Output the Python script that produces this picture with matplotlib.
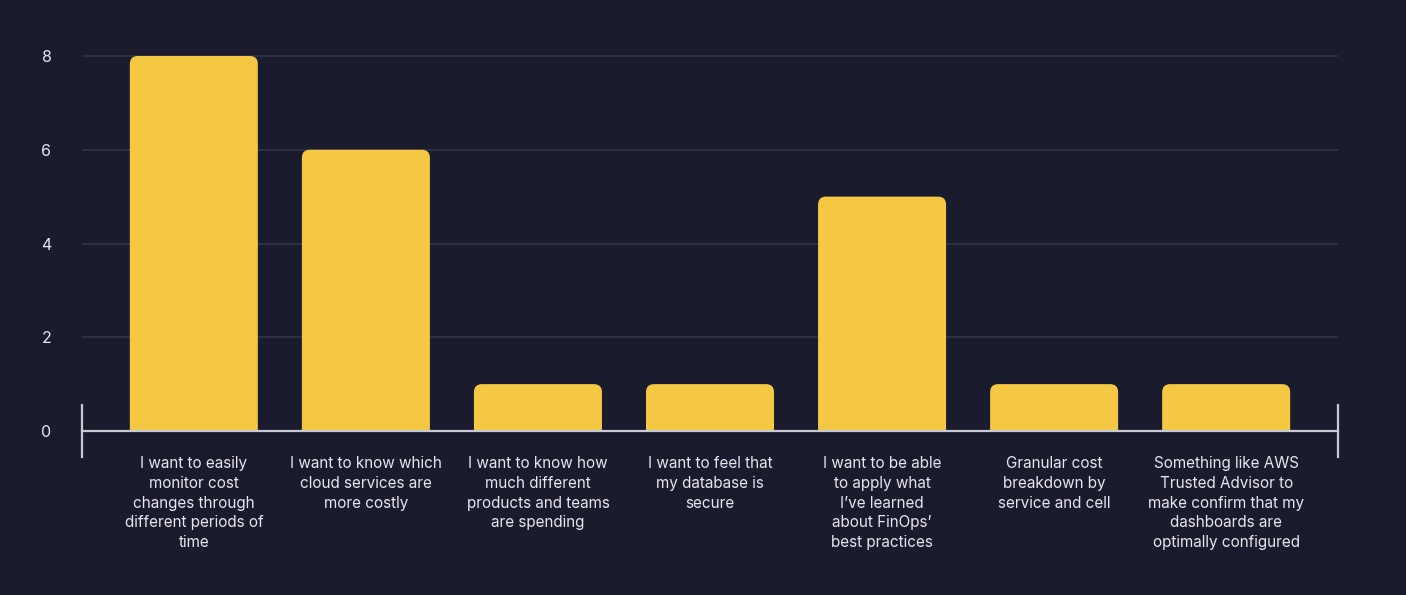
import matplotlib
matplotlib.use("Agg")
import matplotlib.pyplot as plt
from matplotlib.patches import FancyBboxPatch

categories = [
    "I want to easily\nmonitor cost\nchanges through\ndifferent periods of\ntime",
    "I want to know which\ncloud services are\nmore costly",
    "I want to know how\nmuch different\nproducts and teams\nare spending",
    "I want to feel that\nmy database is\nsecure",
    "I want to be able\nto apply what\nI\u2019ve learned\nabout FinOps\u2019\nbest practices",
    "Granular cost\nbreakdown by\nservice and cell",
    "Something like AWS\nTrusted Advisor to\nmake confirm that my\ndashboards are\noptimally configured",
]
values = [8, 6, 1, 1, 5, 1, 1]
yticks = [0, 2, 4, 6, 8]

BG = "#1b1b2e"
BAR = "#f4c842"
GRID = "#2e2e44"
AXIS = "#c9c9d3"
TXT = "#e6e6ee"

plt.rcParams['font.family'] = ['Inter', 'DejaVu Sans']

W, H = 1406, 595
fig = plt.figure(figsize=(W / 100, H / 100), dpi=100, facecolor=BG)
left, right = 82, 1338
y0 = 431
ppu = 46.875
ymax = 8.4
top = y0 - ymax * ppu
ax = fig.add_axes([left / W, (H - y0) / H, (right - left) / W, (y0 - top) / H])
ax.set_facecolor(BG)

n = len(categories)
xs = list(range(n))
ax.set_xlim(-0.65, n - 1 + 0.65)
ax.set_ylim(0, ymax)

# grid lines
for t in yticks[1:]:
    ax.axhline(t, color=GRID, lw=1.5, zorder=0)

# bars with rounded top corners
width = 0.744
xpu = (right - left) / (n - 1 + 1.3)
r_px = 8
rx = r_px / xpu
asp = (r_px / ppu) / rx
bars = ax.bar(xs, values, width=width, color=BAR, alpha=0)
for b in bars:
    x = b.get_x()
    h = b.get_height()
    p = FancyBboxPatch((x, -0.5), width, h + 0.5,
                       boxstyle=f"round,pad=0,rounding_size={rx}",
                       mutation_aspect=asp, facecolor=BAR, edgecolor='none',
                       zorder=2)
    ax.add_patch(p)

# baseline axis with end ticks
ax.axhline(0, color=AXIS, lw=1.6, zorder=3, clip_on=False)
xl = ax.get_xlim()
for xe in xl:
    ax.plot([xe, xe], [-0.55, 0.55], color=AXIS, lw=1.6, clip_on=False, zorder=3)

for s in ax.spines.values():
    s.set_visible(False)

ax.set_yticks(yticks)
ax.set_yticklabels([str(t) for t in yticks])
ax.tick_params(axis='y', length=0, pad=22, labelsize=11.5, labelcolor=TXT)
ax.set_xticks(xs)
ax.set_xticklabels(categories)
ax.tick_params(axis='x', length=0, pad=18, labelsize=11, labelcolor=TXT)
for lab in ax.get_xticklabels():
    lab.set_linespacing(1.4)
    lab.set_ha('center')
    lab.set_va('top')

fig.savefig("out.png", dpi=100, facecolor=BG)
